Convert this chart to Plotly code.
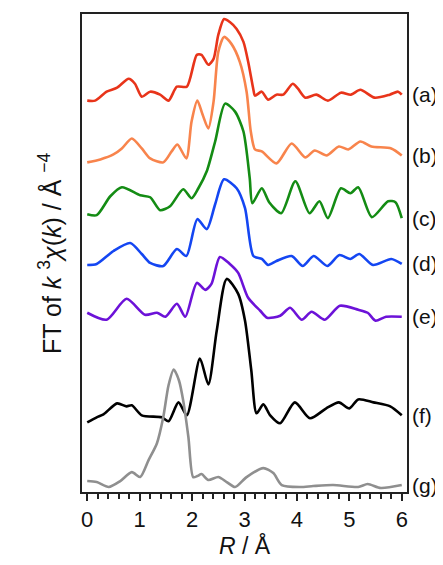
import plotly.graph_objects as go

# R / Å sample positions and FT magnitudes (offset stacked, arbitrary units)
r_a = [0, 0.15, 0.37, 0.57, 0.79, 0.91, 1.04, 1.2, 1.39, 1.55, 1.71, 1.9, 2.09, 2.18, 2.31, 2.41, 2.5, 2.61, 2.72, 2.85,
       2.98, 3.07, 3.17, 3.2, 3.33, 3.45, 3.61, 3.74, 3.92, 4.02, 4.16, 4.37, 4.59, 4.84, 5.03, 5.21, 5.48, 5.77, 5.93, 6.0]
y_a = [39.3, 39.3, 40.2, 40.6, 41.5, 41.0, 39.7, 40.2, 39.9, 39.3, 40.7, 40.7, 43.9, 43.9, 42.9, 43.5, 45.9, 47.5, 47.2, 46.5,
       45.2, 43.2, 40.4, 39.8, 40.2, 39.4, 39.9, 39.9, 41.0, 40.5, 39.6, 39.9, 39.3, 40.1, 39.9, 40.4, 39.6, 39.9, 40.2, 39.9]

r_b = [0, 0.25, 0.5, 0.66, 0.85, 1.04, 1.2, 1.45, 1.61, 1.72, 1.89, 1.99, 2.1, 2.2, 2.31, 2.41, 2.5, 2.61, 2.75, 2.91,
       3.04, 3.12, 3.2, 3.33, 3.61, 3.9, 4.16, 4.34, 4.57, 4.8, 4.98, 5.21, 5.42, 5.8, 6.0]
y_b = [33.1, 33.4, 33.9, 34.5, 35.5, 34.5, 33.5, 33.1, 34.2, 34.9, 33.5, 37.2, 39.3, 37.9, 36.5, 39.2, 44.2, 45.7, 45.0, 43.2,
       40.2, 36.2, 34.4, 34.2, 33.0, 35.0, 33.6, 34.3, 33.8, 34.7, 34.4, 35.2, 34.7, 34.5, 33.8]

r_c = [0, 0.18, 0.44, 0.66, 1.01, 1.2, 1.39, 1.58, 1.83, 1.99, 2.12, 2.28, 2.44, 2.63, 2.82, 2.98, 3.1, 3.15, 3.33, 3.47,
       3.7, 3.97, 4.24, 4.43, 4.59, 4.84, 5.02, 5.17, 5.43, 5.74, 5.88, 6.0]
y_c = [27.9, 27.8, 29.7, 30.6, 29.8, 29.6, 28.3, 28.7, 30.4, 29.5, 30.5, 32.2, 35.2, 39.0, 38.2, 36.2, 31.5, 29.0, 30.5, 29.1,
       28.0, 31.2, 28.0, 29.2, 27.5, 30.5, 30.0, 30.6, 27.6, 29.2, 29.1, 27.5]

r_d = [0, 0.18, 0.5, 0.82, 1.04, 1.2, 1.45, 1.71, 1.89, 2.1, 2.28, 2.44, 2.61, 2.85, 3.01, 3.17, 3.33, 3.45, 3.61, 3.9,
       4.11, 4.32, 4.58, 4.81, 5.02, 5.19, 5.45, 5.8, 6.0]
y_d = [22.8, 22.9, 24.2, 25.0, 23.9, 23.0, 22.7, 24.4, 23.7, 27.4, 26.4, 28.9, 31.4, 30.5, 28.5, 23.7, 23.4, 22.8, 23.2, 23.7,
       22.7, 23.7, 22.7, 23.8, 23.4, 23.9, 22.8, 23.4, 22.9]

r_e = [0, 0.37, 0.75, 1.1, 1.33, 1.49, 1.71, 1.87, 2.09, 2.25, 2.37, 2.53, 2.72, 2.88, 3.07, 3.3, 3.43, 3.68, 3.87, 4.09,
       4.28, 4.53, 4.82, 5.17, 5.35, 5.5, 5.7, 6.0]
y_e = [18.0, 17.3, 19.4, 17.8, 18.0, 17.6, 18.9, 17.6, 21.0, 20.3, 20.9, 23.6, 22.9, 22.0, 19.5, 18.2, 17.5, 17.7, 18.5, 17.3,
       18.1, 17.3, 18.7, 18.3, 18.0, 17.2, 17.6, 17.6]

r_f = [0, 0.18, 0.31, 0.57, 0.75, 0.85, 1.04, 1.42, 1.55, 1.74, 1.9, 2.15, 2.31, 2.47, 2.66, 2.88, 3.01, 3.13, 3.23, 3.36,
       3.49, 3.68, 3.96, 4.25, 4.56, 4.8, 5.0, 5.17, 5.46, 5.78, 6.0]
y_f = [7.0, 7.5, 7.8, 8.9, 8.6, 8.7, 7.7, 7.5, 7.1, 9.0, 7.7, 13.4, 10.8, 16.2, 21.4, 19.9, 17.2, 12.2, 7.9, 8.8,
       7.7, 6.9, 9.0, 7.4, 8.4, 9.0, 8.4, 9.3, 9.0, 8.6, 7.7]

r_g = [0, 0.18, 0.41, 0.63, 0.85, 1.01, 1.17, 1.33, 1.45, 1.55, 1.65, 1.75, 1.83, 1.93, 2.02, 2.1, 2.18, 2.31, 2.5, 2.66,
       2.82, 3.04, 3.36, 3.55, 3.71, 4.06, 4.31, 4.69, 5.17, 5.35, 5.6, 6.0]
y_g = [1.1, 1.0, 0.5, 1.1, 2.0, 1.5, 3.2, 4.9, 7.5, 10.7, 12.3, 11.2, 9.2, 5.5, 1.5, 1.6, 1.8, 1.2, 1.5, 1.0,
       0.5, 1.5, 2.4, 1.9, 0.7, 0.5, 0.6, 0.7, 0.5, 0.8, 0.4, 0.7]

labels = ["(a)", "(b)", "(c)", "(d)", "(e)", "(f)", "(g)"]
colors = ["#e8341a", "#f8844c", "#148c14", "#1446f2", "#6c12d8", "#000000", "#8f8f8f"]
series = [(r_a, y_a), (r_b, y_b), (r_c, y_c), (r_d, y_d), (r_e, y_e), (r_f, y_f), (r_g, y_g)]

FONT = "Liberation Sans, Arial, sans-serif"

fig = go.Figure()
for (rx, ry), col, lab in zip(series, colors, labels):
    fig.add_trace(go.Scatter(x=rx, y=ry, mode="lines", name=lab,
                             line=dict(color=col, width=2.6, shape="spline", smoothing=0.7)))
    fig.add_annotation(x=1.0, xref="paper", y=ry[-1], yref="y", text=lab, showarrow=False,
                       xanchor="left", yanchor="middle", xshift=3,
                       font=dict(family=FONT, size=21, color="#111"))

# y-axis title as a rotated annotation (placed like the reference)
fig.add_annotation(x=0, xref="paper", y=0.5, yref="paper", xshift=-32,
                   text="FT of <i>k</i> <sup>3</sup><i>χ</i>(<i>k</i>) / Å <sup>−4</sup>",
                   textangle=-90, showarrow=False, xanchor="center", yanchor="middle",
                   font=dict(family=FONT, size=25, color="#111"))

fig.update_layout(
    width=435, height=557,
    margin=dict(l=74, r=36, t=4, b=73),
    paper_bgcolor="white", plot_bgcolor="white",
    showlegend=False,
    font=dict(family=FONT, size=22, color="#111"),
    xaxis=dict(range=[-0.1, 6.1], tickmode="linear", tick0=0, dtick=1,
               ticks="outside", ticklen=7, tickwidth=2, tickcolor="#222",
               minor=dict(dtick=0.2, ticks="outside", ticklen=5, tickwidth=1.5, tickcolor="#222"),
               showline=True, linecolor="#222", linewidth=2, mirror=True,
               showgrid=False, zeroline=False,
               tickfont=dict(family=FONT, size=22),
               title=dict(text="<i>R</i> / Å", font=dict(family=FONT, size=23), standoff=6)),
    yaxis=dict(range=[0, 48], showticklabels=False, ticks="",
               showline=True, linecolor="#222", linewidth=2, mirror=True,
               showgrid=False, zeroline=False),
)

fig.write_html("out.html")
